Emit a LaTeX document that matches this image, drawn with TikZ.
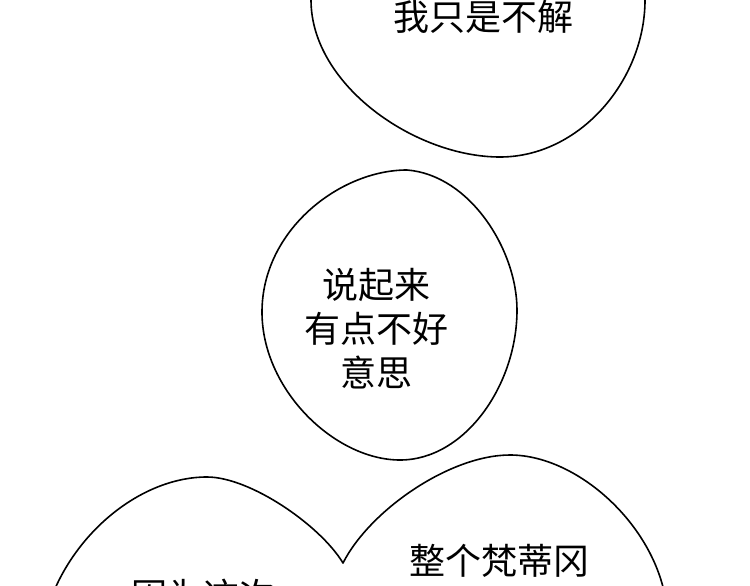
\documentclass[tikz,border=0pt]{standalone}
\usepackage{fontspec}
\newfontfamily\cjk{Noto Sans CJK SC}
\begin{document}
\begin{tikzpicture}[x=1pt,y=-1pt,
  bubble/.style={draw=black,line width=1.6pt,fill=white,line join=round},
  say/.style={font=\cjk\fontsize{36}{44}\selectfont,align=center,inner sep=0pt,text=black}]
\useasboundingbox (0,0) rectangle (750,586);
\begin{scope}
\clip (0,0) rectangle (750,586);
\fill[white] (0,0) rectangle (750,586);
% top bubble
\draw[bubble] (311,-12) -- (311,0) .. controls (311,85) and (415,157) .. (500,157)
  .. controls (580,157) and (645,80) .. (645,0) -- (645,-12);
% middle bubble
\draw[bubble] (407,170) .. controls (470,175) and (517,250) .. (517,310)
  .. controls (517,385) and (465,460) .. (400,460)
  .. controls (335,460) and (262,390) .. (262,312)
  .. controls (262,230) and (340,170) .. (407,170) -- cycle;
% bottom double bubble
\draw[bubble] (47,610) .. controls (70,535) and (140,477) .. (207,477)
  .. controls (250,477) and (320,525) .. (343,563)
  .. controls (370,510) and (450,455) .. (510,455)
  .. controls (580,455) and (660,530) .. (667,610);
\end{scope}
\node[say] (t1) at (483,17) {我只是不解};
\node[say] (t2) at (376,329) {说起来\\有点不好\\意思};
\node[say] (t3) at (499,561) {整个梵蒂冈};
\begin{scope}
\clip (0,0) rectangle (750,586);
\node[say] (t4) at (203,596) {因为这次};
\end{scope}
\end{tikzpicture}
\end{document}
